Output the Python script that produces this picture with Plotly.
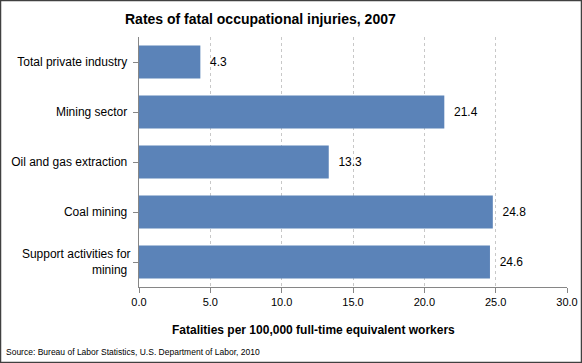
import plotly.graph_objects as go

categories = ["Total private industry", "Mining sector", "Oil and gas extraction",
              "Coal mining", "Support activities for<br>mining"]
values = [4.3, 21.4, 13.3, 24.8, 24.6]
value_labels = ["4.3", "21.4", "13.3", "24.8", "24.6"]
x_ticks = [0, 5, 10, 15, 20, 25, 30]
x_tick_labels = ["0.0", "5.0", "10.0", "15.0", "20.0", "25.0", "30.0"]

fig = go.Figure(go.Bar(
    y=categories, x=values, orientation="h",
    marker=dict(color="#5B83B8", line=dict(width=0)),
    width=0.66,
    text=["  " + s for s in value_labels], textposition="outside",
    textfont=dict(family="Liberation Sans, Arial", size=12, color="#000000"),
    cliponaxis=False,
))

W, H = 582, 363
l, r, t, b = 139, 15, 37, 76
pw, ph = W - l - r, H - t - b

fig.update_layout(
    width=W, height=H, autosize=False,
    margin=dict(l=l, r=r, t=t, b=b, autoexpand=False),
    paper_bgcolor="white", plot_bgcolor="white",
    font=dict(family="Liberation Sans, Arial", size=11, color="#000000"),
    showlegend=False,
    xaxis=dict(
        range=[0, 30], tickvals=x_ticks, ticktext=x_tick_labels,
        showgrid=True, gridcolor="#C8C8C8", griddash="dot", gridwidth=1,
        showline=True, linecolor="#868686", linewidth=1,
        ticks="outside", ticklen=5, tickcolor="#868686",
        zeroline=False, tickfont=dict(size=11), automargin=False,
    ),
    yaxis=dict(
        autorange="reversed",
        showline=True, linecolor="#868686", linewidth=1,
        ticks="outside", ticklen=5, tickcolor="#868686",
        showgrid=False, tickfont=dict(size=12), ticksuffix=" ",
        automargin=False,
    ),
)

def px_to_paper(px, py):
    return (px - l) / pw, 1 - (py - t) / ph

anns = [
    ("<b>Rates of fatal occupational injuries, 2007</b>", 260, 19, 14, "center"),
    ("<b>Fatalities per 100,000 full-time equivalent workers</b>", 313, 330, 12, "center"),
    ("Source: Bureau of Labor Statistics, U.S. Department of Labor, 2010", 4, 352, 8.5, "left"),
]
for text, px, py, size, anchor in anns:
    xx, yy = px_to_paper(px, py)
    fig.add_annotation(text=text, x=xx, y=yy, xref="paper", yref="paper",
                       showarrow=False, font=dict(size=size),
                       xanchor=anchor, yanchor="middle")

x0, y1 = px_to_paper(0.5, 0.5)
x1, y0 = px_to_paper(W - 0.5, H - 0.5)
fig.add_shape(type="rect", xref="paper", yref="paper", x0=x0, y0=y0, x1=x1, y1=y1,
              line=dict(color="#404040", width=1.5), layer="above")

fig.write_html("out.html", config={"displayModeBar": False},
               post_script="document.body.style.margin='0';document.body.style.overflow='hidden';")
